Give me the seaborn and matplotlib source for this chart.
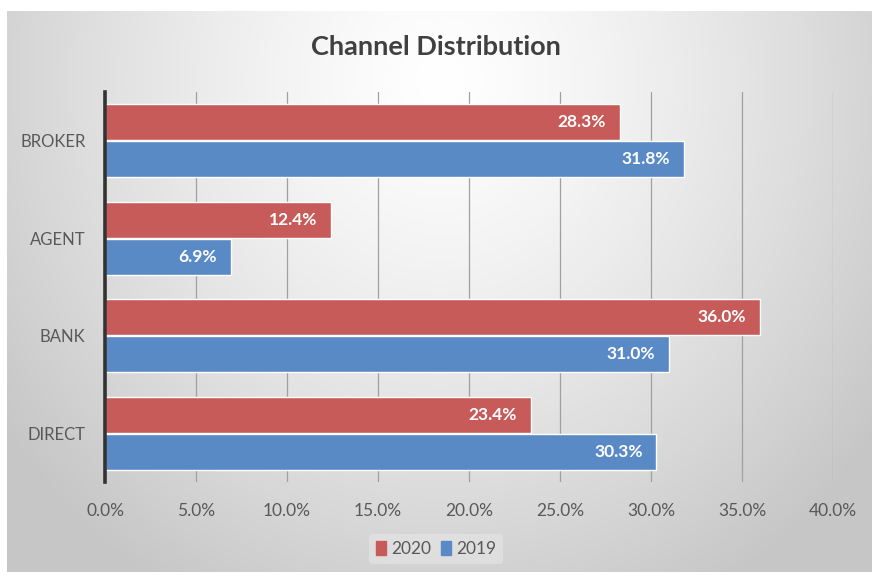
import numpy as np
import pandas as pd
import matplotlib
matplotlib.use("Agg")
import matplotlib.pyplot as plt
import seaborn as sns

categories = ["BROKER", "AGENT", "BANK", "DIRECT"]
values_2020 = [28.3, 12.4, 36.0, 23.4]
values_2019 = [31.8, 6.9, 31.0, 30.3]
series = ["2020", "2019"]
xticks = [0, 5, 10, 15, 20, 25, 30, 35, 40]
title = "Channel Distribution"

df = pd.DataFrame({
    "Channel": categories * 2,
    "Year": ["2020"] * len(categories) + ["2019"] * len(categories),
    "Share": values_2020 + values_2019,
})

sns.set_theme(style="white")
plt.rcParams["font.family"] = ["Lato", "DejaVu Sans"]

W, H = 872, 576
fig = plt.figure(figsize=(W / 100, H / 100), dpi=100)
fig.patch.set_facecolor("white")

# gradient background panel
bg = fig.add_axes([7 / W, 4 / H, 865 / W, 561 / H], zorder=-5)
ny, nx = 300, 460
yy, xx = np.mgrid[0:ny, 0:nx]
cx, cy = nx * 0.5, ny * 0.12
d = np.sqrt(((xx - cx) / (nx * 0.62)) ** 2 + ((yy - cy) / (ny * 1.05)) ** 2)
d = np.clip(d, 0, 1)
g = 1.0 - 0.22 * d ** 1.3
img = np.dstack([g, g, g])
bg.imshow(img, aspect="auto", extent=[0, 1, 0, 1], interpolation="bilinear")
bg.set_axis_off()

ax = fig.add_axes([105 / W, (H - 482) / H, 728 / W, 390 / H])
ax.set_facecolor("none")

palette = {"2020": "#C65B5A", "2019": "#5A8AC6"}
sns.barplot(data=df, y="Channel", x="Share", hue="Year", order=categories,
            hue_order=series, palette=palette, orient="h", width=0.76,
            gap=0.04, saturation=1, ax=ax, legend=True, zorder=3)

ax.set_xlim(0, 40)
ax.set_ylim(len(categories) - 0.5, -0.5)
ax.set_xticks(xticks)
ax.set_xticklabels([f"{t:.1f}%" for t in xticks], color="#595959", fontsize=12.5)
ax.tick_params(axis="x", length=0, pad=15)
ax.tick_params(axis="y", length=0, pad=14, labelsize=12, labelcolor="#595959")
ax.set_xlabel("")
ax.set_ylabel("")
ax.grid(axis="x", color="#a0a0a0", linewidth=0.9, zorder=0)
ax.set_axisbelow(True)
for s in ["top", "right", "bottom"]:
    ax.spines[s].set_visible(False)
ax.spines["left"].set_color("#333333")
ax.spines["left"].set_linewidth(2.6)
ax.spines["left"].set_zorder(5)

for cont in ax.containers:
    texts = ax.bar_label(cont, labels=[f"{v:.1f}%" for v in cont.datavalues],
                         label_type="edge", padding=-10, color="white",
                         fontweight="bold", fontsize=12.5)
    for t in texts:
        t.set_horizontalalignment("right")

leg = ax.get_legend()
leg.remove()
handles = [plt.Rectangle((0, 0), 1, 1, color=palette[s]) for s in series]
fig.legend(handles, series, loc="center", bbox_to_anchor=(0.5, (H - 549) / H),
           ncol=2, frameon=True, fontsize=12.5, handlelength=0.55,
           handleheight=0.9, handletextpad=0.3, columnspacing=0.6,
           facecolor="#e6e6e6", edgecolor="none", framealpha=0.6,
           labelcolor="#595959")

fig.text(0.5, (H - 47) / H, title, ha="center", va="center", fontsize=19.5,
         fontweight="bold", color="#404040")

fig.savefig("out.png", dpi=100)
